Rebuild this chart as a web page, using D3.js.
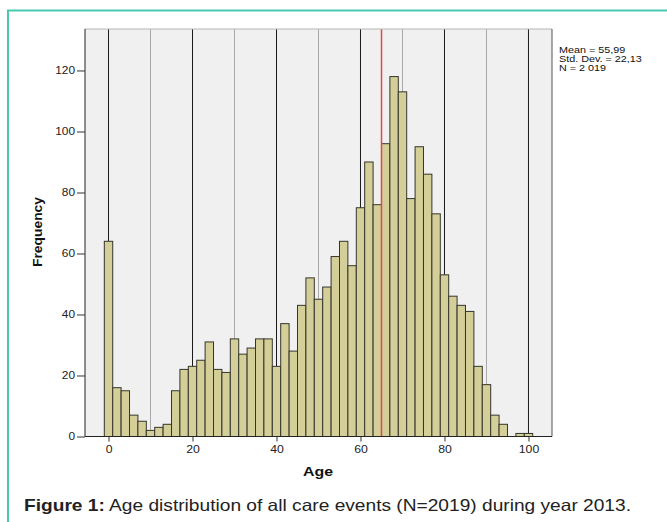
<!DOCTYPE html>
<html>
<head>
<meta charset="utf-8">
<script src="https://cdn.jsdelivr.net/npm/d3@7"></script>
<style>
  body { margin: 0; background: #fff; }
  svg { display: block; font-family: "Liberation Sans", Arial, sans-serif; }
  .axis path { display: none; }
  .axis line { stroke: #333; }
  .axis text { fill: #222; font-size: 10px; }
</style>
</head>
<body>
<svg id="hist"></svg>
<script>
// bin centres (2-year bins) and counts
let ages = [0, 2, 4, 6, 8, 10, 12, 14, 16, 18, 20, 22, 24, 26, 28, 30, 32, 34, 36, 38,
  40, 42, 44, 46, 48, 50, 52, 54, 56, 58, 60, 62, 64, 66, 68, 70, 72, 74, 76, 78,
  80, 82, 84, 86, 88, 90, 92, 94, 96, 98, 100];
let counts = [64, 16, 15, 7, 5, 2, 3, 4, 15, 22, 23, 25, 31, 22, 21, 32, 27, 29, 32, 32,
  23, 37, 28, 43, 52, 45, 49, 59, 64, 56, 75, 90, 76, 96, 118, 113, 78, 95, 86, 73,
  53, 46, 43, 41, 23, 17, 7, 4, 0, 1, 1];
let binWidth = 2;

let xTicks = [0, 20, 40, 60, 80, 100];
let yTicks = [0, 20, 40, 60, 80, 100, 120];
let gridLines = [0, 10, 20, 30, 40, 50, 60, 70, 80, 90, 100];
let refLine = 65;

let statLines = ["Mean = 55,99", "Std. Dev. = 22,13", "N = 2 019"];
let xTitle = "Age";
let yTitle = "Frequency";
let captionBold = "Figure 1:";
let captionText = " Age distribution of all care events (N=2019) during year 2013.";

let config = {
  'svg': {},
  'plot': {}
};

config.svg.width = 667;
config.svg.height = 522;

config.plot.left = 85;
config.plot.right = 552;
config.plot.top = 29;
config.plot.bottom = 436.5;

let svg = d3.select("svg#hist")
  .attr('width', config.svg.width)
  .attr('height', config.svg.height);

let scale = {};

scale.x = d3.scaleLinear()
  .domain([-5.6, 105.6])
  .range([config.plot.left, config.plot.right]);

scale.y = d3.scaleLinear()
  .domain([0, 133.6])
  .range([config.plot.bottom, config.plot.top]);

draw();

function draw() {
  // teal frame round the figure
  svg.append("path")
    .attr("d", "M8,522 L8,10.5 L667,10.5")
    .attr("fill", "none")
    .attr("stroke", "#47c9b1")
    .attr("stroke-width", 2);

  // plot background
  svg.append("rect")
    .attr("x", config.plot.left)
    .attr("y", config.plot.top)
    .attr("width", config.plot.right - config.plot.left)
    .attr("height", config.plot.bottom - config.plot.top)
    .attr("fill", "#f0f0f0");

  // vertical grid
  svg.append("g")
    .selectAll("line")
    .data(gridLines)
    .enter()
    .append("line")
    .attr("x1", d => scale.x(d))
    .attr("x2", d => scale.x(d))
    .attr("y1", config.plot.top)
    .attr("y2", config.plot.bottom)
    .attr("stroke", d => d % 20 === 0 ? "#1a1a1a" : "#a8a8a8")
    .attr("stroke-width", 1);

  let bins = ages.map((a, i) => ({ age: a, count: counts[i] }))
    .filter(d => d.count > 0);

  svg.append("g")
    .selectAll("rect")
    .data(bins)
    .enter()
    .append("rect")
    .attr("x", d => scale.x(d.age - binWidth / 2))
    .attr("y", d => scale.y(d.count))
    .attr("width", d => scale.x(d.age + binWidth / 2) - scale.x(d.age - binWidth / 2))
    .attr("height", d => scale.y(0) - scale.y(d.count))
    .attr("fill", "#d4cf99")
    .attr("stroke", "#35352c")
    .attr("stroke-width", 1);

  // reference line
  svg.append("line")
    .attr("x1", scale.x(refLine))
    .attr("x2", scale.x(refLine))
    .attr("y1", config.plot.top)
    .attr("y2", config.plot.bottom)
    .attr("stroke", "#e2494b")
    .attr("stroke-width", 1.5);

  // plot border
  svg.append("line")
    .attr("x1", config.plot.left).attr("x2", config.plot.right)
    .attr("y1", config.plot.top).attr("y2", config.plot.top)
    .attr("stroke", "#b5b5b5");
  svg.append("line")
    .attr("x1", config.plot.right).attr("x2", config.plot.right)
    .attr("y1", config.plot.top).attr("y2", config.plot.bottom)
    .attr("stroke", "#555");
  svg.append("line")
    .attr("x1", config.plot.left).attr("x2", config.plot.left)
    .attr("y1", config.plot.top).attr("y2", config.plot.bottom)
    .attr("stroke", "#222");
  svg.append("line")
    .attr("x1", config.plot.left).attr("x2", config.plot.right)
    .attr("y1", config.plot.bottom).attr("y2", config.plot.bottom)
    .attr("stroke", "#222");

  let xAxis = d3.axisBottom(scale.x)
    .tickValues(xTicks)
    .tickSize(5)
    .tickPadding(4);

  let gx = svg.append("g")
    .attr("class", "axis")
    .attr("transform", translate(0, config.plot.bottom))
    .call(xAxis);
  gx.selectAll("text")
    .attr("textLength", d => String(d).length * 6.8)
    .attr("lengthAdjust", "spacingAndGlyphs");

  let yAxis = d3.axisLeft(scale.y)
    .tickValues(yTicks)
    .tickSize(8)
    .tickPadding(2);

  let gy = svg.append("g")
    .attr("class", "axis")
    .attr("transform", translate(config.plot.left, 0))
    .call(yAxis);
  gy.selectAll("text")
    .attr("textLength", d => String(d).length * 6.6)
    .attr("lengthAdjust", "spacingAndGlyphs");

  drawTitles();
  drawStats();
}

function drawTitles() {
  svg.append("text")
    .text(xTitle)
    .attr("x", 318)
    .attr("y", 476)
    .attr("text-anchor", "middle")
    .attr("font-size", "13px")
    .attr("font-weight", "bold")
    .attr("textLength", 30)
    .attr("lengthAdjust", "spacingAndGlyphs")
    .attr("fill", "#111");

  svg.append("text")
    .text(yTitle)
    .attr("transform", translate(42, 232) + " rotate(-90)")
    .attr("text-anchor", "middle")
    .attr("font-size", "12px")
    .attr("font-weight", "bold")
    .attr("textLength", 70)
    .attr("lengthAdjust", "spacingAndGlyphs")
    .attr("fill", "#111");

  let caption = svg.append("text")
    .attr("x", 24)
    .attr("y", 511)
    .attr("font-size", "16.5px")
    .attr("textLength", 607)
    .attr("lengthAdjust", "spacingAndGlyphs")
    .attr("fill", "#222");
  caption.append("tspan").attr("font-weight", "bold").text(captionBold);
  caption.append("tspan").text(captionText);
}

function drawStats() {
  // SPSS packs these lines tightly
  svg.append("g")
    .selectAll("text")
    .data(statLines)
    .enter()
    .append("text")
    .text(d => d)
    .attr("transform", (d, i) => translate(559, 53 + i * 9) + " scale(1.08,0.85)")
    .attr("font-size", "10px")
    .attr("fill", "#111");
}

function translate(x, y) {
  return 'translate(' + x + ',' + y + ')';
}
</script>
</body>
</html>
